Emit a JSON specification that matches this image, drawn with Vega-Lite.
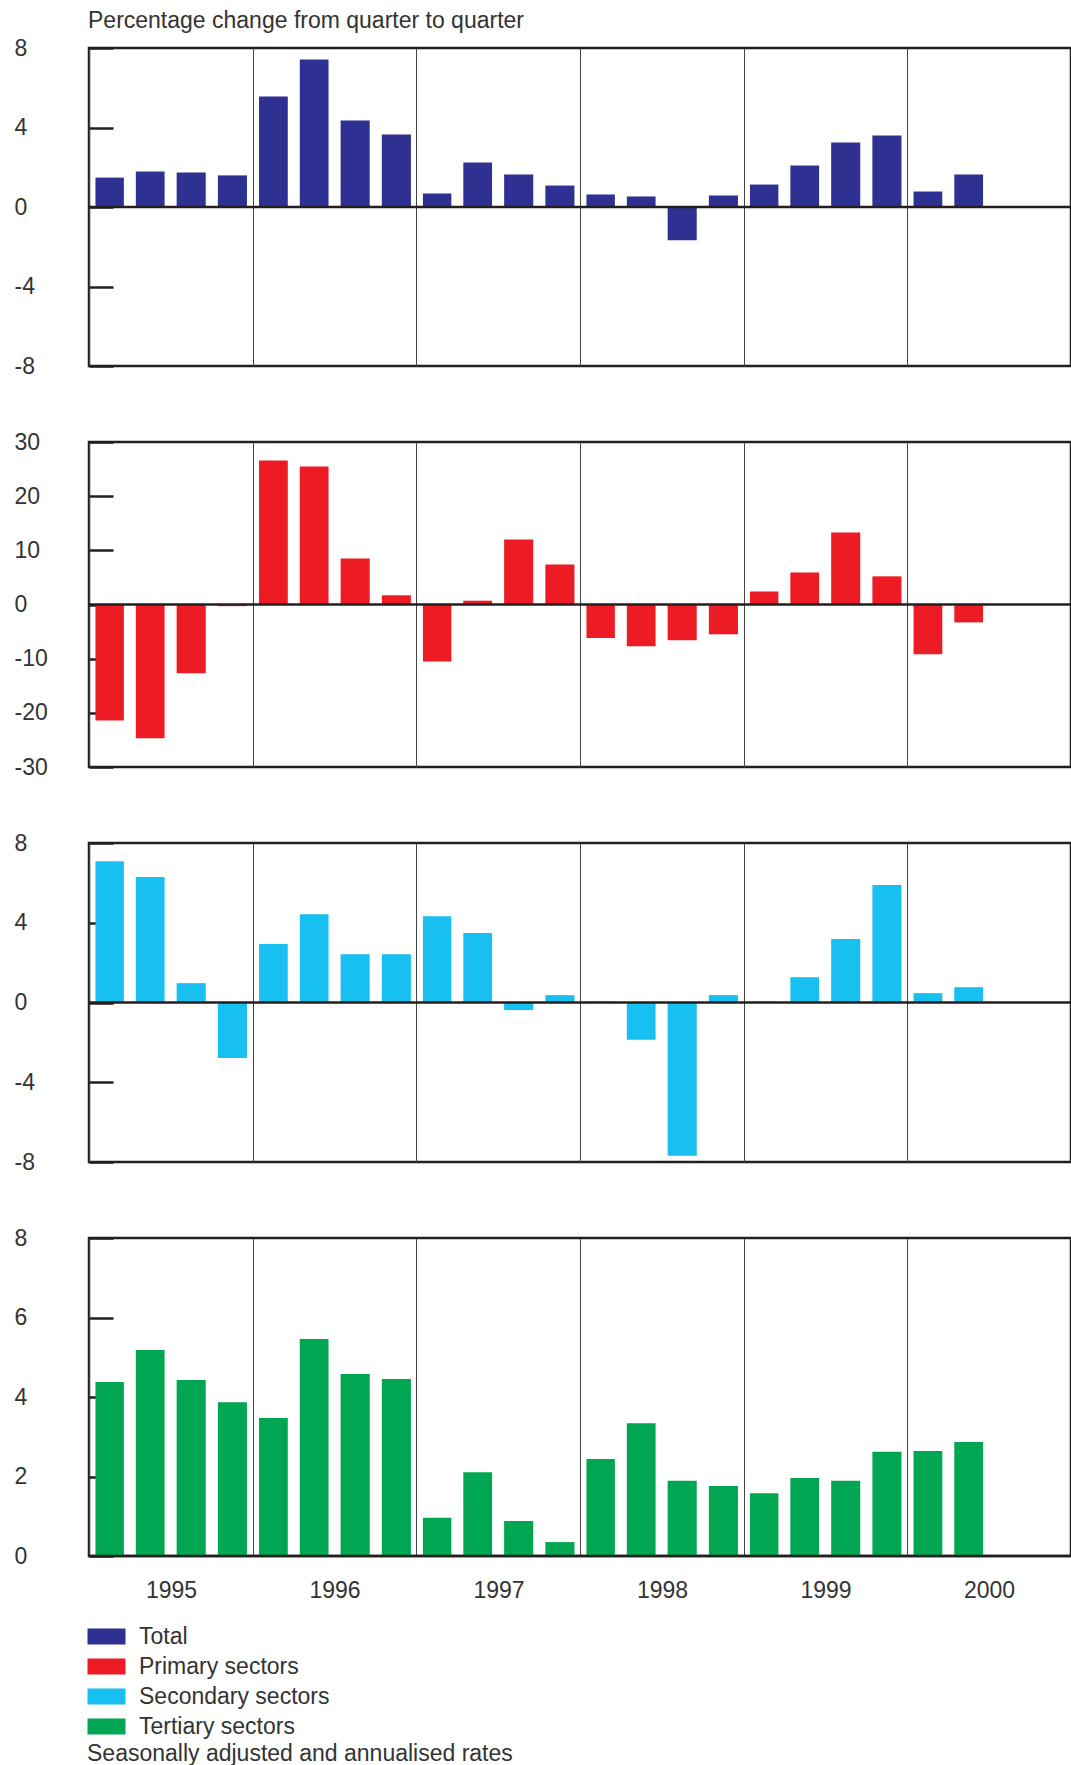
{
  "$schema": "https://vega.github.io/schema/vega-lite/v6.json",
  "padding": {"left": 12, "top": 8, "right": 0, "bottom": 0},
  "background": "white",
  "config": {
    "font": "Liberation Sans",
    "view": {"stroke": "#231f20", "strokeWidth": 2.5},
    "axis": {"labelFont": "Liberation Sans", "labelFontSize": 23, "labelColor": "#333333"},
    "title": {"font": "Liberation Sans"},
    "legend": {"labelFont": "Liberation Sans", "titleFont": "Liberation Sans"}
  },
  "data": {"values": [
    {"s": "Total", "d": "1995-01-01", "v": 1.48},
    {"s": "Total", "d": "1995-04-01", "v": 1.79},
    {"s": "Total", "d": "1995-07-01", "v": 1.74},
    {"s": "Total", "d": "1995-10-01", "v": 1.59},
    {"s": "Total", "d": "1996-01-01", "v": 5.56},
    {"s": "Total", "d": "1996-04-01", "v": 7.42},
    {"s": "Total", "d": "1996-07-01", "v": 4.35},
    {"s": "Total", "d": "1996-10-01", "v": 3.65},
    {"s": "Total", "d": "1997-01-01", "v": 0.68},
    {"s": "Total", "d": "1997-04-01", "v": 2.24},
    {"s": "Total", "d": "1997-07-01", "v": 1.64},
    {"s": "Total", "d": "1997-10-01", "v": 1.08},
    {"s": "Total", "d": "1998-01-01", "v": 0.63},
    {"s": "Total", "d": "1998-04-01", "v": 0.53},
    {"s": "Total", "d": "1998-07-01", "v": -1.67},
    {"s": "Total", "d": "1998-10-01", "v": 0.58},
    {"s": "Total", "d": "1999-01-01", "v": 1.13},
    {"s": "Total", "d": "1999-04-01", "v": 2.09},
    {"s": "Total", "d": "1999-07-01", "v": 3.25},
    {"s": "Total", "d": "1999-10-01", "v": 3.6},
    {"s": "Total", "d": "2000-01-01", "v": 0.78},
    {"s": "Total", "d": "2000-04-01", "v": 1.64},
    {"s": "Primary sectors", "d": "1995-01-01", "v": -21.4},
    {"s": "Primary sectors", "d": "1995-04-01", "v": -24.7},
    {"s": "Primary sectors", "d": "1995-07-01", "v": -12.7},
    {"s": "Primary sectors", "d": "1995-10-01", "v": -0.3},
    {"s": "Primary sectors", "d": "1996-01-01", "v": 26.6},
    {"s": "Primary sectors", "d": "1996-04-01", "v": 25.5},
    {"s": "Primary sectors", "d": "1996-07-01", "v": 8.5},
    {"s": "Primary sectors", "d": "1996-10-01", "v": 1.7},
    {"s": "Primary sectors", "d": "1997-01-01", "v": -10.5},
    {"s": "Primary sectors", "d": "1997-04-01", "v": 0.7},
    {"s": "Primary sectors", "d": "1997-07-01", "v": 12.0},
    {"s": "Primary sectors", "d": "1997-10-01", "v": 7.4},
    {"s": "Primary sectors", "d": "1998-01-01", "v": -6.2},
    {"s": "Primary sectors", "d": "1998-04-01", "v": -7.7},
    {"s": "Primary sectors", "d": "1998-07-01", "v": -6.6},
    {"s": "Primary sectors", "d": "1998-10-01", "v": -5.5},
    {"s": "Primary sectors", "d": "1999-01-01", "v": 2.4},
    {"s": "Primary sectors", "d": "1999-04-01", "v": 5.9},
    {"s": "Primary sectors", "d": "1999-07-01", "v": 13.3},
    {"s": "Primary sectors", "d": "1999-10-01", "v": 5.2},
    {"s": "Primary sectors", "d": "2000-01-01", "v": -9.2},
    {"s": "Primary sectors", "d": "2000-04-01", "v": -3.3},
    {"s": "Secondary sectors", "d": "1995-01-01", "v": 7.09},
    {"s": "Secondary sectors", "d": "1995-04-01", "v": 6.29},
    {"s": "Secondary sectors", "d": "1995-07-01", "v": 0.97},
    {"s": "Secondary sectors", "d": "1995-10-01", "v": -2.78},
    {"s": "Secondary sectors", "d": "1996-01-01", "v": 2.93},
    {"s": "Secondary sectors", "d": "1996-04-01", "v": 4.43},
    {"s": "Secondary sectors", "d": "1996-07-01", "v": 2.42},
    {"s": "Secondary sectors", "d": "1996-10-01", "v": 2.42},
    {"s": "Secondary sectors", "d": "1997-01-01", "v": 4.33},
    {"s": "Secondary sectors", "d": "1997-04-01", "v": 3.48},
    {"s": "Secondary sectors", "d": "1997-07-01", "v": -0.38},
    {"s": "Secondary sectors", "d": "1997-10-01", "v": 0.37},
    {"s": "Secondary sectors", "d": "1998-01-01", "v": 0.05},
    {"s": "Secondary sectors", "d": "1998-04-01", "v": -1.87},
    {"s": "Secondary sectors", "d": "1998-07-01", "v": -7.69},
    {"s": "Secondary sectors", "d": "1998-10-01", "v": 0.37},
    {"s": "Secondary sectors", "d": "1999-01-01", "v": 0.05},
    {"s": "Secondary sectors", "d": "1999-04-01", "v": 1.27},
    {"s": "Secondary sectors", "d": "1999-07-01", "v": 3.18},
    {"s": "Secondary sectors", "d": "1999-10-01", "v": 5.89},
    {"s": "Secondary sectors", "d": "2000-01-01", "v": 0.47},
    {"s": "Secondary sectors", "d": "2000-04-01", "v": 0.77},
    {"s": "Tertiary sectors", "d": "1995-01-01", "v": 4.38},
    {"s": "Tertiary sectors", "d": "1995-04-01", "v": 5.18},
    {"s": "Tertiary sectors", "d": "1995-07-01", "v": 4.43},
    {"s": "Tertiary sectors", "d": "1995-10-01", "v": 3.87},
    {"s": "Tertiary sectors", "d": "1996-01-01", "v": 3.47},
    {"s": "Tertiary sectors", "d": "1996-04-01", "v": 5.46},
    {"s": "Tertiary sectors", "d": "1996-07-01", "v": 4.58},
    {"s": "Tertiary sectors", "d": "1996-10-01", "v": 4.45},
    {"s": "Tertiary sectors", "d": "1997-01-01", "v": 0.96},
    {"s": "Tertiary sectors", "d": "1997-04-01", "v": 2.11},
    {"s": "Tertiary sectors", "d": "1997-07-01", "v": 0.88},
    {"s": "Tertiary sectors", "d": "1997-10-01", "v": 0.35},
    {"s": "Tertiary sectors", "d": "1998-01-01", "v": 2.44},
    {"s": "Tertiary sectors", "d": "1998-04-01", "v": 3.34},
    {"s": "Tertiary sectors", "d": "1998-07-01", "v": 1.89},
    {"s": "Tertiary sectors", "d": "1998-10-01", "v": 1.76},
    {"s": "Tertiary sectors", "d": "1999-01-01", "v": 1.58},
    {"s": "Tertiary sectors", "d": "1999-04-01", "v": 1.96},
    {"s": "Tertiary sectors", "d": "1999-07-01", "v": 1.89},
    {"s": "Tertiary sectors", "d": "1999-10-01", "v": 2.62},
    {"s": "Tertiary sectors", "d": "2000-01-01", "v": 2.64},
    {"s": "Tertiary sectors", "d": "2000-04-01", "v": 2.87}
  ]},
  "bounds": "flush",
  "spacing": 76,
  "vconcat": [
    {
      "width": 982, "height": 318,
      "title": {"text": "Percentage change from quarter to quarter", "anchor": "start", "frame": "group", "offset": -14, "baseline": "alphabetic", "fontSize": 23, "fontWeight": "normal", "color": "#333333", "dx": -1},
      "layer": [
        {
          "transform": [{"filter": "datum.s === 'Total'"}],
          "mark": {"type": "bar", "width": {"band": 0.73}},
          "encoding": {
            "x": {"field": "d", "type": "temporal", "timeUnit": "utcyearquarter", "scale": {"type": "utc", "domain": [{"year": 1995, "month": 1, "date": 1, "utc": true}, {"year": 2001, "month": 1, "date": 1, "utc": true}]}, "axis": {"title": null, "values": [{"year": 1995, "utc": true}, {"year": 1996, "utc": true}, {"year": 1997, "utc": true}, {"year": 1998, "utc": true}, {"year": 1999, "utc": true}, {"year": 2000, "utc": true}], "labels": false, "ticks": false, "domain": false, "grid": true, "gridColor": "#444444", "gridWidth": 1}},
            "y": {"field": "v", "type": "quantitative", "scale": {"domain": [-8, 8], "nice": false, "zero": false}, "axis": {"title": null, "values": [-8, -4, 0, 4, 8], "labelExpr": "'' + datum.value", "grid": false, "domain": false, "tickSize": -24, "tickWidth": 2.5, "tickColor": "#231f20", "labelAlign": "left", "labelBaseline": "middle", "labelPadding": 99}},
            "color": {"field": "s", "type": "nominal", "title": "Seasonally adjusted and annualised rates", "scale": {"domain": ["Total", "Primary sectors", "Secondary sectors", "Tertiary sectors"], "range": ["#2e3192", "#ed1c24", "#17c0f0", "#00a651"]}, "legend": {"orient": "none", "legendX": -2, "legendY": 1577, "titleOrient": "bottom", "titleAnchor": "start", "titleFontSize": 23, "titleFontWeight": "normal", "titleColor": "#333333", "titlePadding": 4, "titleLimit": 800, "titleAlign": "left", "labelFontSize": 23, "labelColor": "#333333", "labelOffset": 29, "labelLimit": 500, "symbolType": "M-1.375,-1H3.375V1H-1.375Z", "symbolSize": 256, "symbolStrokeWidth": 0, "symbolOpacity": 1, "rowPadding": 6, "padding": 0}}
          }
        },
        {"data": {"values": [{}]}, "mark": {"type": "rule", "color": "#231f20", "strokeWidth": 2.5}, "encoding": {"y": {"datum": 0}}}
      ]
    },
    {
      "width": 982, "height": 325,
      "layer": [
        {
          "transform": [{"filter": "datum.s === 'Primary sectors'"}],
          "mark": {"type": "bar", "width": {"band": 0.73}},
          "encoding": {
            "x": {"field": "d", "type": "temporal", "timeUnit": "utcyearquarter", "scale": {"type": "utc", "domain": [{"year": 1995, "month": 1, "date": 1, "utc": true}, {"year": 2001, "month": 1, "date": 1, "utc": true}]}, "axis": {"title": null, "values": [{"year": 1995, "utc": true}, {"year": 1996, "utc": true}, {"year": 1997, "utc": true}, {"year": 1998, "utc": true}, {"year": 1999, "utc": true}, {"year": 2000, "utc": true}], "labels": false, "ticks": false, "domain": false, "grid": true, "gridColor": "#444444", "gridWidth": 1}},
            "y": {"field": "v", "type": "quantitative", "scale": {"domain": [-30, 30], "nice": false, "zero": false}, "axis": {"title": null, "values": [-30, -20, -10, 0, 10, 20, 30], "labelExpr": "'' + datum.value", "grid": false, "domain": false, "tickSize": -24, "tickWidth": 2.5, "tickColor": "#231f20", "labelAlign": "left", "labelBaseline": "middle", "labelPadding": 99}},
            "color": {"field": "s", "type": "nominal", "title": "Seasonally adjusted and annualised rates", "scale": {"domain": ["Total", "Primary sectors", "Secondary sectors", "Tertiary sectors"], "range": ["#2e3192", "#ed1c24", "#17c0f0", "#00a651"]}, "legend": {"orient": "none", "legendX": -2, "legendY": 1577, "titleOrient": "bottom", "titleAnchor": "start", "titleFontSize": 23, "titleFontWeight": "normal", "titleColor": "#333333", "titlePadding": 4, "titleLimit": 800, "titleAlign": "left", "labelFontSize": 23, "labelColor": "#333333", "labelOffset": 29, "labelLimit": 500, "symbolType": "M-1.375,-1H3.375V1H-1.375Z", "symbolSize": 256, "symbolStrokeWidth": 0, "symbolOpacity": 1, "rowPadding": 6, "padding": 0}}
          }
        },
        {"data": {"values": [{}]}, "mark": {"type": "rule", "color": "#231f20", "strokeWidth": 2.5}, "encoding": {"y": {"datum": 0}}}
      ]
    },
    {
      "width": 982, "height": 319,
      "layer": [
        {
          "transform": [{"filter": "datum.s === 'Secondary sectors'"}],
          "mark": {"type": "bar", "width": {"band": 0.73}},
          "encoding": {
            "x": {"field": "d", "type": "temporal", "timeUnit": "utcyearquarter", "scale": {"type": "utc", "domain": [{"year": 1995, "month": 1, "date": 1, "utc": true}, {"year": 2001, "month": 1, "date": 1, "utc": true}]}, "axis": {"title": null, "values": [{"year": 1995, "utc": true}, {"year": 1996, "utc": true}, {"year": 1997, "utc": true}, {"year": 1998, "utc": true}, {"year": 1999, "utc": true}, {"year": 2000, "utc": true}], "labels": false, "ticks": false, "domain": false, "grid": true, "gridColor": "#444444", "gridWidth": 1}},
            "y": {"field": "v", "type": "quantitative", "scale": {"domain": [-8, 8], "nice": false, "zero": false}, "axis": {"title": null, "values": [-8, -4, 0, 4, 8], "labelExpr": "'' + datum.value", "grid": false, "domain": false, "tickSize": -24, "tickWidth": 2.5, "tickColor": "#231f20", "labelAlign": "left", "labelBaseline": "middle", "labelPadding": 99}},
            "color": {"field": "s", "type": "nominal", "title": "Seasonally adjusted and annualised rates", "scale": {"domain": ["Total", "Primary sectors", "Secondary sectors", "Tertiary sectors"], "range": ["#2e3192", "#ed1c24", "#17c0f0", "#00a651"]}, "legend": {"orient": "none", "legendX": -2, "legendY": 1577, "titleOrient": "bottom", "titleAnchor": "start", "titleFontSize": 23, "titleFontWeight": "normal", "titleColor": "#333333", "titlePadding": 4, "titleLimit": 800, "titleAlign": "left", "labelFontSize": 23, "labelColor": "#333333", "labelOffset": 29, "labelLimit": 500, "symbolType": "M-1.375,-1H3.375V1H-1.375Z", "symbolSize": 256, "symbolStrokeWidth": 0, "symbolOpacity": 1, "rowPadding": 6, "padding": 0}}
          }
        },
        {"data": {"values": [{}]}, "mark": {"type": "rule", "color": "#231f20", "strokeWidth": 2.5}, "encoding": {"y": {"datum": 0}}}
      ]
    },
    {
      "width": 982, "height": 318,
      "layer": [
        {
          "transform": [{"filter": "datum.s === 'Tertiary sectors'"}],
          "mark": {"type": "bar", "width": {"band": 0.73}},
          "encoding": {
            "x": {"field": "d", "type": "temporal", "timeUnit": "utcyearquarter", "scale": {"type": "utc", "domain": [{"year": 1995, "month": 1, "date": 1, "utc": true}, {"year": 2001, "month": 1, "date": 1, "utc": true}]}, "axis": {"title": null, "values": [{"year": 1995, "utc": true}, {"year": 1996, "utc": true}, {"year": 1997, "utc": true}, {"year": 1998, "utc": true}, {"year": 1999, "utc": true}, {"year": 2000, "utc": true}], "format": "%Y", "labelOffset": 82, "labelFlush": false, "labelOverlap": false, "labelPadding": 23, "ticks": false, "domain": false, "grid": true, "gridColor": "#444444", "gridWidth": 1}},
            "y": {"field": "v", "type": "quantitative", "scale": {"domain": [0, 8], "nice": false, "zero": false}, "axis": {"title": null, "values": [0, 2, 4, 6, 8], "labelExpr": "'' + datum.value", "grid": false, "domain": false, "tickSize": -24, "tickWidth": 2.5, "tickColor": "#231f20", "labelAlign": "left", "labelBaseline": "middle", "labelPadding": 99}},
            "color": {"field": "s", "type": "nominal", "title": "Seasonally adjusted and annualised rates", "scale": {"domain": ["Total", "Primary sectors", "Secondary sectors", "Tertiary sectors"], "range": ["#2e3192", "#ed1c24", "#17c0f0", "#00a651"]}, "legend": {"orient": "none", "legendX": -2, "legendY": 1577, "titleOrient": "bottom", "titleAnchor": "start", "titleFontSize": 23, "titleFontWeight": "normal", "titleColor": "#333333", "titlePadding": 4, "titleLimit": 800, "titleAlign": "left", "labelFontSize": 23, "labelColor": "#333333", "labelOffset": 29, "labelLimit": 500, "symbolType": "M-1.375,-1H3.375V1H-1.375Z", "symbolSize": 256, "symbolStrokeWidth": 0, "symbolOpacity": 1, "rowPadding": 6, "padding": 0}}
          }
        },
        {"data": {"values": [{}]}, "mark": {"type": "rule", "color": "#231f20", "strokeWidth": 2.5}, "encoding": {"y": {"datum": 0}}}
      ]
    }
  ]
}
